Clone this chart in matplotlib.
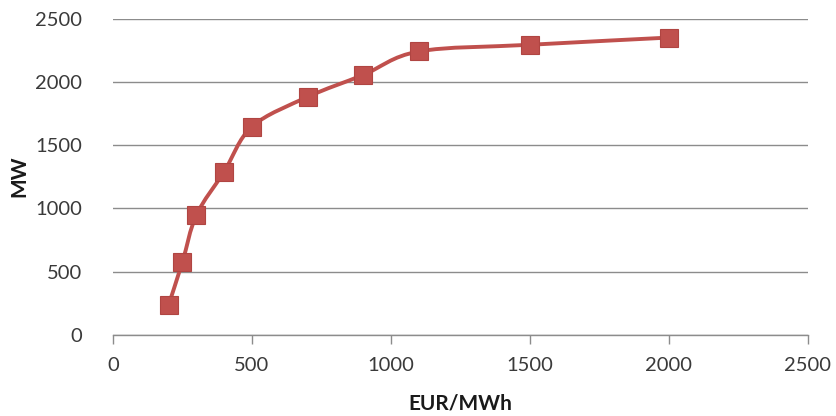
import numpy as np
import matplotlib.pyplot as plt
from matplotlib.path import Path
from matplotlib.patches import PathPatch

# data
price = [200, 250, 300, 400, 500, 700, 900, 1100, 1500, 2000]
mw = [235, 578, 948, 1292, 1648, 1883, 2057, 2243, 2296, 2353]

x_ticks = [0, 500, 1000, 1500, 2000, 2500]
y_ticks = [0, 500, 1000, 1500, 2000, 2500]

red = "#C0504D"
grid_col = "#8C8C8C"
text_col = "#3A3A3A"

plt.rcParams['font.family'] = ['Lato', 'DejaVu Sans']

W, H = 837, 416
fig = plt.figure(figsize=(W / 100, H / 100), dpi=100)
ax = fig.add_axes([113 / W, (H - 334.7) / H, 695 / W, 315.7 / H])

# smooth line like Excel (Catmull-Rom -> cubic Bezier), built in display space
ax.set_xlim(0, 2500)
ax.set_ylim(0, 2500)
pts = ax.transData.transform(np.column_stack([price, mw]))
verts = [pts[0]]
codes = [Path.MOVETO]
n = len(pts)
for i in range(n - 1):
    p0 = pts[i - 1] if i > 0 else pts[i]
    p1 = pts[i]
    p2 = pts[i + 1]
    p3 = pts[i + 2] if i + 2 < n else pts[i + 1]
    c1 = p1 + (p2 - p0) / 6
    c2 = p2 - (p3 - p1) / 6
    verts += [c1, c2, p2]
    codes += [Path.CURVE4] * 3
inv = ax.transData.inverted()
path = Path(inv.transform(np.array(verts)), codes)
ax.add_patch(PathPatch(path, facecolor="none", edgecolor=red, lw=2.8, zorder=3))

ax.plot(price, mw, linestyle="none", marker="s", markersize=13.5,
        markerfacecolor=red, markeredgecolor="#B04542", markeredgewidth=0.8,
        zorder=4, clip_on=False)

ax.set_xticks(x_ticks)
ax.set_yticks(y_ticks)
ax.set_xticklabels([str(v) for v in x_ticks])
ax.set_yticklabels([str(v) for v in y_ticks])
ax.tick_params(axis="y", length=0, pad=22, labelsize=14.5, labelcolor=text_col)
ax.tick_params(axis="x", length=6.3, width=1, color=grid_col, pad=10,
               labelsize=14.5, labelcolor=text_col)

ax.grid(axis="y", color=grid_col, lw=1)
ax.set_axisbelow(True)
for s in ["top", "right", "left"]:
    ax.spines[s].set_visible(False)
ax.spines["bottom"].set_color(grid_col)
ax.spines["bottom"].set_linewidth(1)

fig.text(460 / W, 1 - 403.5 / H, "EUR/MWh", fontsize=15, fontweight="bold",
         color="#1a1a1a", ha="center", va="center")
fig.text(19.5 / W, 1 - 176.5 / H, "MW", fontsize=15, fontweight="bold",
         color="#1a1a1a", ha="center", va="center", rotation=90)

fig.savefig("out.png", dpi=100)
